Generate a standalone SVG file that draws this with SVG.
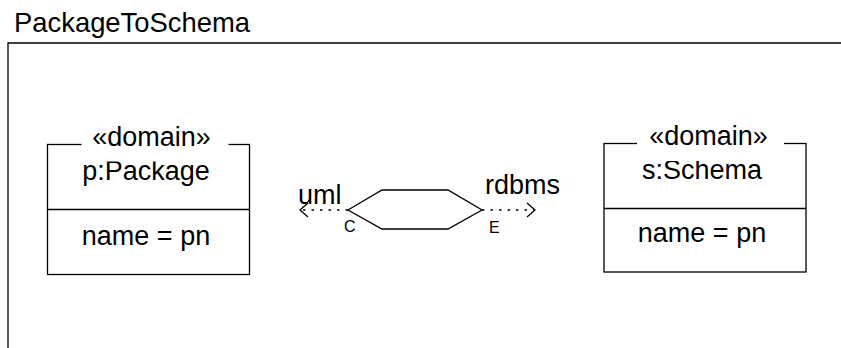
<svg xmlns="http://www.w3.org/2000/svg" width="841" height="348" viewBox="0 0 841 348">
<style>
text{font-family:"Liberation Sans",Arial,sans-serif;fill:#000}
.t{font-size:27px}
.s{font-size:16px}
.ln{fill:none;stroke:#000;stroke-width:1.3}
.dot{fill:none;stroke:#000;stroke-width:1.3;stroke-dasharray:2.5,6}
.bg{fill:#fff;stroke:none}
</style>
<defs>
<marker id="open" viewBox="0 0 10 16" refX="9" refY="8" markerWidth="10" markerHeight="16" markerUnits="userSpaceOnUse" orient="auto">
<path d="M1,1 L9,8 L1,15" fill="none" stroke="#000" stroke-width="1.3"/>
</marker>
</defs>
<g id="frame">
<text x="14" y="32" style="font-size:27.4px">PackageToSchema</text>
<path class="ln" d="M8,348 V43 H841"/>
</g>
<g id="node-package">
<rect class="ln" x="47.5" y="144.5" width="202" height="130"/>
<line class="ln" x1="47.5" y1="209.5" x2="249.5" y2="209.5"/>
<text class="t" x="146" y="179.5" text-anchor="middle">p:Package</text>
<rect class="bg" x="81.5" y="125" width="147" height="36.5"/>
<text class="t" x="151.5" y="146" text-anchor="middle">«domain»</text>
<text class="t" x="146" y="245" text-anchor="middle">name = pn</text>
</g>
<g id="node-schema">
<rect class="ln" x="604" y="143.5" width="202" height="128.5"/>
<line class="ln" x1="604" y1="208.5" x2="806" y2="208.5"/>
<text class="t" x="702" y="178.5" text-anchor="middle">s:Schema</text>
<rect class="bg" x="637" y="124" width="147" height="37"/>
<text class="t" x="708.5" y="145" text-anchor="middle">«domain»</text>
<text class="t" x="702" y="242" text-anchor="middle">name = pn</text>
</g>
<g id="node-relation">
<polygon class="ln" points="348,210 382,190 448,190 482,210 448,229 382,229"/>
</g>
<g id="connectors">
<line class="dot" x1="348" y1="210" x2="300" y2="210" marker-end="url(#open)"/>
<line class="dot" x1="482" y1="210" x2="535" y2="210" marker-end="url(#open)"/>
<text class="t" x="298" y="204">uml</text>
<text class="s" x="344" y="232">C</text>
<text class="t" x="485" y="193.5">rdbms</text>
<text class="s" x="489" y="233">E</text>
</g>
</svg>
